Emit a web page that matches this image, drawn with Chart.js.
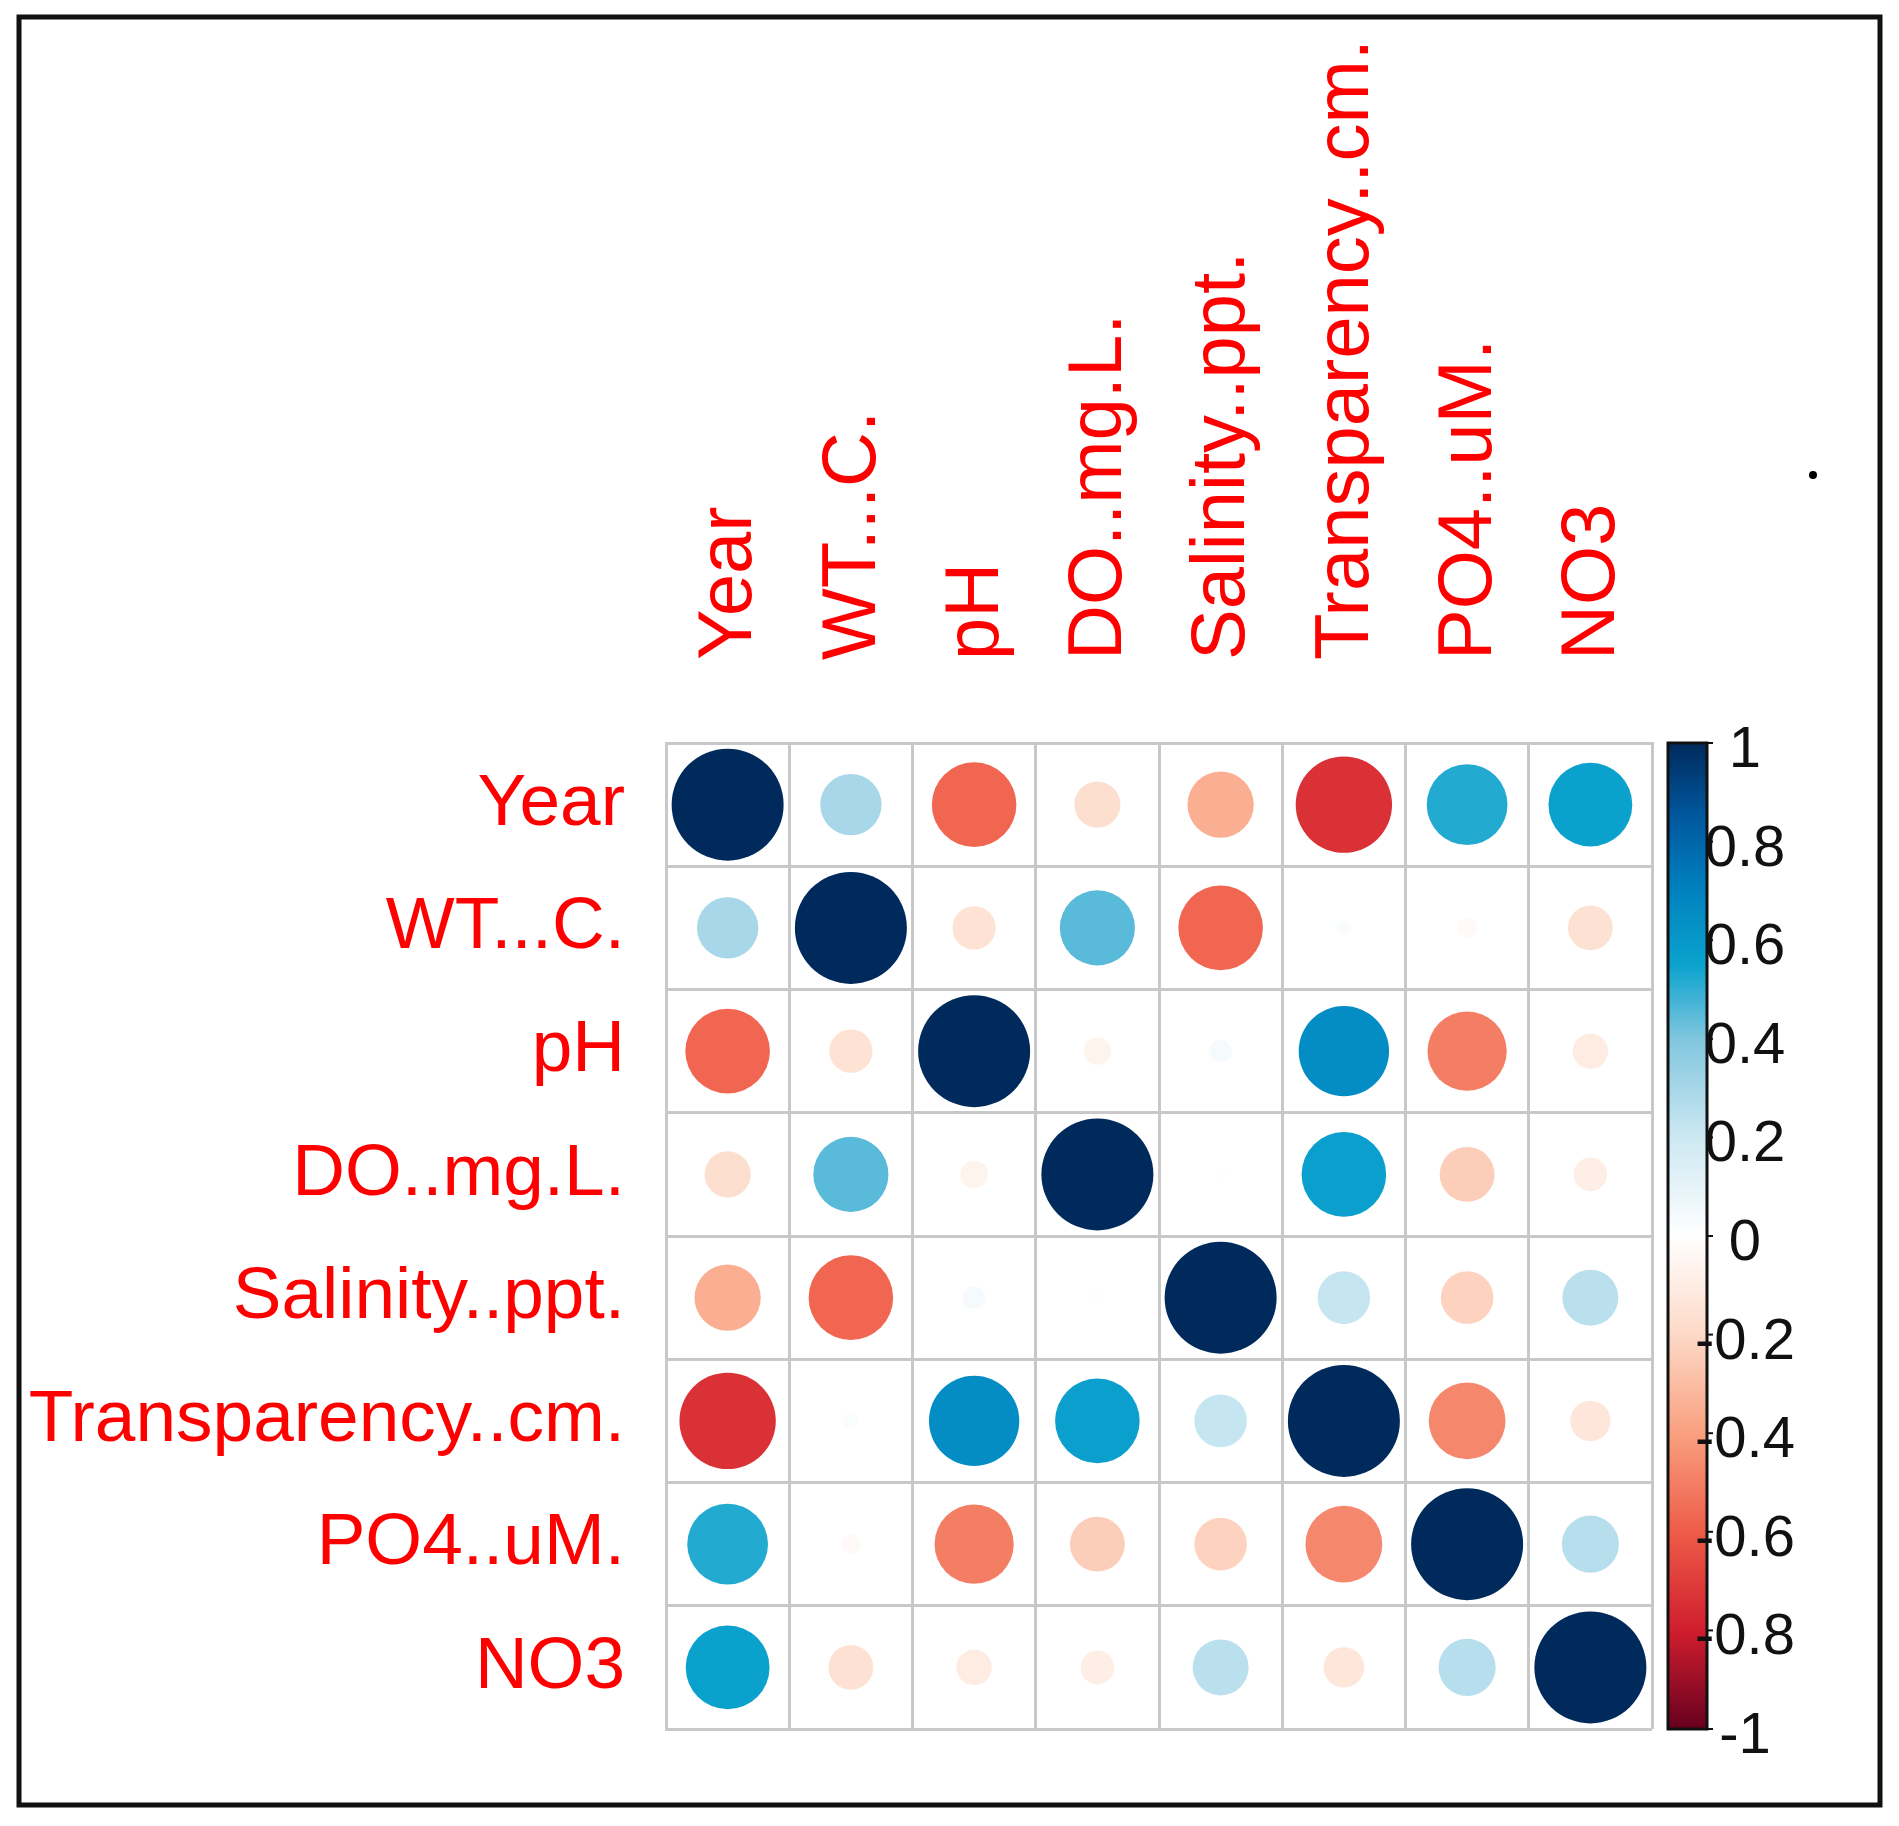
<!DOCTYPE html>
<html>
<head>
<meta charset="utf-8">
<title>Correlation matrix</title>
<script src="https://cdn.jsdelivr.net/npm/chart.js@4.4.1/dist/chart.umd.min.js"></script>
<style>
  html, body { margin: 0; padding: 0; background: #fff; }
  #wrap { position: relative; width: 1899px; height: 1826px; }
</style>
</head>
<body>
<div id="wrap"><canvas id="corr"></canvas></div>
<script>
// variable names (same order for rows and columns)
var varLabels = ['Year', 'WT...C.', 'pH', 'DO..mg.L.', 'Salinity..ppt.', 'Transparency..cm.', 'PO4..uM.', 'NO3'];

// correlation rows
var corrYear = [1.00, 0.30, -0.57, -0.17, -0.35, -0.74, 0.52, 0.56];
var corrWT   = [0.30, 1.00, -0.15, 0.45, -0.57, 0.02, -0.03, -0.16];
var corrPH   = [-0.57, -0.15, 1.00, -0.06, 0.04, 0.65, -0.50, -0.10];
var corrDO   = [-0.17, 0.45, -0.06, 1.00, 0.01, 0.57, -0.24, -0.09];
var corrSal  = [-0.35, -0.57, 0.04, 0.01, 1.00, 0.22, -0.22, 0.25];
var corrTr   = [-0.74, 0.02, 0.65, 0.57, 0.22, 1.00, -0.47, -0.13];
var corrPO4  = [0.52, -0.03, -0.50, -0.24, -0.22, -0.47, 1.00, 0.26];
var corrNO3  = [0.56, -0.16, -0.10, -0.09, 0.25, -0.13, 0.26, 1.00];

var colorbarTicks = [1, 0.8, 0.6, 0.4, 0.2, 0, -0.2, -0.4, -0.6, -0.8, -1];

// diverging palette, value -> colour
var paletteStops = [-1, -0.8, -0.6, -0.4, -0.2, 0, 0.2, 0.4, 0.55, 0.7, 0.85, 1];
var paletteColors = ['#67001f', '#d01e2e', '#ee5c48', '#f9a080', '#fdd9c7', '#ffffff',
                     '#cde8f2', '#80c6de', '#0ba3ce', '#0082bf', '#00589f', '#002a5c'];

// circle area follows |r|; radius of a full correlation in px (cell is ~123px)
var maxRadius = 56;

function hexToRgb(h) {
  return [parseInt(h.substr(1, 2), 16), parseInt(h.substr(3, 2), 16), parseInt(h.substr(5, 2), 16)];
}

function corrColor(v) {
  for (var i = 0; i < paletteStops.length - 1; i++) {
    if (v <= paletteStops[i + 1]) {
      var t = (v - paletteStops[i]) / (paletteStops[i + 1] - paletteStops[i]);
      var a = hexToRgb(paletteColors[i]), b = hexToRgb(paletteColors[i + 1]);
      return 'rgb(' + Math.round(a[0] + (b[0] - a[0]) * t) + ',' +
        Math.round(a[1] + (b[1] - a[1]) * t) + ',' + Math.round(a[2] + (b[2] - a[2]) * t) + ')';
    }
  }
  return paletteColors[paletteColors.length - 1];
}

var corrRows = [corrYear, corrWT, corrPH, corrDO, corrSal, corrTr, corrPO4, corrNO3];
var points = [];
corrRows.forEach(function (row, ri) {
  row.forEach(function (v, ci) {
    points.push({ x: varLabels[ci], y: varLabels[ri], v: v, r: maxRadius * Math.sqrt(Math.abs(v)) });
  });
});

var fontFamily = '"Liberation Sans", Arial, sans-serif';

// colour key, drawn on the 'cb' scale
var colorbarPlugin = {
  id: 'colorbar',
  beforeDraw: function (chart) {
    var ctx = chart.ctx;
    var cb = chart.scales.cb;
    ctx.save();
    ctx.fillStyle = '#fff';
    ctx.fillRect(0, 0, chart.width, chart.height);
    if (cb && chart.chartArea) {
      var x0 = chart.chartArea.right + 16, w = 39;
      var top = cb.getPixelForValue(1), bottom = cb.getPixelForValue(-1);
      var grad = ctx.createLinearGradient(0, bottom, 0, top);
      paletteStops.forEach(function (s, i) {
        grad.addColorStop((s + 1) / 2, paletteColors[i]);
      });
      ctx.fillStyle = grad;
      ctx.fillRect(x0, top, w, bottom - top);
      ctx.lineWidth = 3;
      ctx.strokeStyle = '#111';
      ctx.strokeRect(x0, top, w, bottom - top);
      ctx.lineWidth = 2;
      colorbarTicks.forEach(function (t) {
        var y = cb.getPixelForValue(t);
        ctx.beginPath();
        ctx.moveTo(x0 + w, y);
        ctx.lineTo(x0 + w + 6, y);
        ctx.stroke();
      });
    }
    ctx.restore();
  },
  afterDraw: function (chart) {
    var ctx = chart.ctx;
    ctx.save();
    ctx.lineWidth = 5;
    ctx.strokeStyle = '#111';
    ctx.strokeRect(19, 17, 1861, 1788);
    ctx.fillStyle = '#000';
    ctx.beginPath();
    ctx.arc(1813, 475, 4, 0, Math.PI * 2);
    ctx.fill();
    ctx.restore();
  }
};

new Chart(document.getElementById('corr'), {
  type: 'bubble',
  data: {
    datasets: [
      {
        xAxisID: 'x',
        yAxisID: 'y',
        data: points,
        backgroundColor: function (c) { return c.raw ? corrColor(c.raw.v) : '#fff'; },
        borderWidth: 0,
        hoverRadius: 0,
      },
    ],
  },
  options: {
    responsive: true,
    maintainAspectRatio: false,
    animation: false,
    events: [],
    layout: { padding: { left: 0, top: 0, right: 0, bottom: 97 } },
    plugins: {
      legend: { display: false },
      tooltip: { enabled: false },
    },
    scales: {
      x: {
        type: 'category',
        labels: varLabels,
        position: 'top',
        offset: true,
        grid: { offset: true, color: '#c8c8c8', lineWidth: 3, drawTicks: false },
        border: { color: '#c8c8c8', width: 3 },
        ticks: {
          color: '#ff0000',
          font: { family: fontFamily, size: 76 },
          minRotation: 90,
          maxRotation: 90,
          autoSkip: false,
          padding: 83,
          labelOffset: 94,
        },
        afterFit: function (s) { s.height = 743; },
      },
      y: {
        type: 'category',
        labels: varLabels,
        position: 'left',
        offset: true,
        grid: { offset: true, color: '#c8c8c8', lineWidth: 3, drawTicks: false },
        border: { color: '#c8c8c8', width: 3 },
        ticks: {
          color: '#ff0000',
          font: { family: fontFamily, size: 73 },
          autoSkip: false,
          padding: 41,
        },
        afterFit: function (s) { s.width = 666; },
      },
      cb: {
        type: 'linear',
        position: 'right',
        min: -1,
        max: 1,
        grid: { display: false, drawTicks: false },
        border: { display: false },
        afterBuildTicks: function (s) {
          s.ticks = colorbarTicks.map(function (v) { return { value: v }; });
        },
        ticks: {
          color: '#111',
          font: { family: fontFamily, size: 58 },
          crossAlign: 'center',
          padding: 43,
          labelOffset: 8,
          callback: function (v) { return String(v); },
        },
        afterFit: function (s) { s.width = 247; },
      },
    },
  },
  plugins: [colorbarPlugin],
});
</script>
</body>
</html>
